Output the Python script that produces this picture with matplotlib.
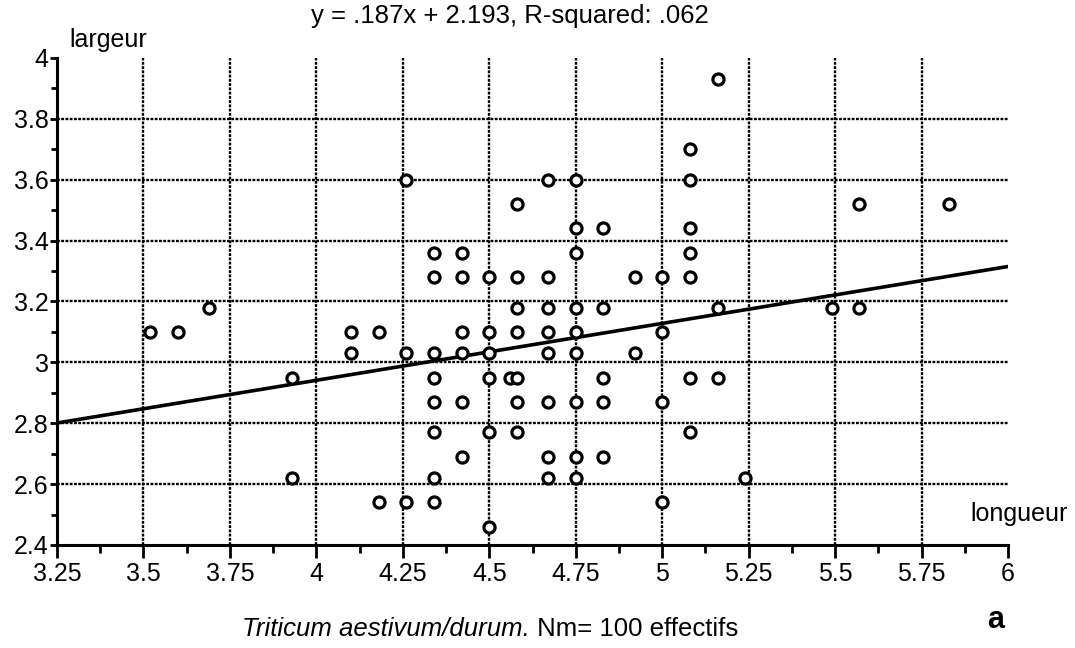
"""Nuage longueur / largeur des grains, avec droite de régression."""
import matplotlib.pyplot as plt
import numpy as np
from matplotlib.ticker import MultipleLocator

plt.rcParams["font.family"] = ["Liberation Sans", "DejaVu Sans"]

# longueur (x) et largeur (y) des grains mesurés
longueur = [
    3.52, 3.60, 3.69, 3.93, 3.93, 4.10, 4.18, 4.10, 4.18, 4.26,
    4.26, 4.26, 4.34, 4.42, 4.34, 4.42, 4.34, 4.42, 4.42, 4.34,
    4.34, 4.42, 4.34, 4.42, 4.34, 4.34, 4.50, 4.50, 4.50, 4.50,
    4.50, 4.50, 4.58, 4.58, 4.58, 4.58, 4.56, 4.58, 4.58, 4.58,
    4.67, 4.67, 4.67, 4.67, 4.67, 4.67, 4.67, 4.67, 4.75, 4.75,
    4.75, 4.75, 4.75, 4.75, 4.75, 4.75, 4.75, 4.83, 4.83, 4.83,
    4.83, 4.83, 4.92, 4.92, 5.00, 5.00, 5.00, 5.00, 5.08, 5.08,
    5.08, 5.08, 5.08, 5.08, 5.08, 5.16, 5.16, 5.16, 5.24, 5.49,
    5.57, 5.57, 5.83,
]
largeur = [
    3.10, 3.10, 3.18, 2.95, 2.62, 3.10, 3.10, 3.03, 2.54, 3.03,
    3.60, 2.54, 3.36, 3.36, 3.28, 3.28, 3.03, 3.10, 3.03, 2.95,
    2.87, 2.87, 2.77, 2.69, 2.62, 2.54, 3.28, 3.10, 3.03, 2.95,
    2.77, 2.46, 3.52, 3.28, 3.18, 3.10, 2.95, 2.95, 2.87, 2.77,
    3.60, 3.28, 3.18, 3.10, 3.03, 2.87, 2.69, 2.62, 3.60, 3.44,
    3.36, 3.18, 3.10, 3.03, 2.87, 2.69, 2.62, 3.44, 3.18, 2.95,
    2.87, 2.69, 3.28, 3.03, 3.28, 3.10, 2.87, 2.54, 3.70, 3.60,
    3.44, 3.36, 3.28, 2.95, 2.77, 3.93, 3.18, 2.95, 2.62, 3.18,
    3.52, 3.18, 3.52,
]

pente, origine, r2 = 0.187, 2.193, 0.062
xlim = (3.25, 6.0)
ylim = (2.4, 4.0)

fig = plt.figure(figsize=(10.75, 6.48), dpi=100)
ax = fig.add_axes([0.053, 0.159, 0.8847, 0.7515])
ax.set_xlim(*xlim)
ax.set_ylim(*ylim)

# grille "crénelée" comme sur les vieux tracés
grid_kw = dict(color="black", lw=1.7, ls=(0, (1.2, 0.6)), zorder=1)
for gx in np.arange(3.5, 5.8, 0.25):
    ax.axvline(gx, **grid_kw)
for gy in np.arange(2.6, 3.9, 0.2):
    ax.axhline(gy, **grid_kw)

xs = np.array(xlim)
ax.plot(xs, pente * xs + origine, color="black", lw=2.6, zorder=2,
        solid_capstyle="butt")

ax.plot(longueur, largeur, "o", ms=8, mfc="white", mec="black", mew=2.3,
        zorder=3, clip_on=False)

for s in ("top", "right"):
    ax.spines[s].set_visible(False)
for s in ("left", "bottom"):
    ax.spines[s].set_linewidth(2.2)

ax.xaxis.set_major_locator(MultipleLocator(0.25))
ax.xaxis.set_minor_locator(MultipleLocator(0.125))
ax.yaxis.set_major_locator(MultipleLocator(0.2))
ax.yaxis.set_minor_locator(MultipleLocator(0.1))
ax.set_xticklabels([f"{v:g}" for v in ax.get_xticks()])
ax.set_yticklabels([f"{v:g}" for v in ax.get_yticks()])
ax.tick_params(axis="x", which="major", length=9, width=2, labelsize=18,
               pad=3)
ax.tick_params(axis="x", which="minor", length=6, width=2)
ax.tick_params(axis="y", which="major", length=5, width=2, labelsize=18,
               pad=1)
ax.tick_params(axis="y", which="minor", length=4, width=2)

fig.text(0.474, 0.975, f"y = .{int(pente*1000)}x + {origine}, "
         f"R-squared: .0{int(round(r2*1000))}",
         ha="center", va="center", fontsize=18.5)
fig.text(0.101, 0.938, "largeur", ha="center", va="center", fontsize=18)
fig.text(0.948, 0.207, "longueur", ha="center", va="center", fontsize=18)

# légende sous le graphique : nom latin en italique, le reste droit
t1 = fig.text(0.435, 0.03, "Triticum aestivum/durum.", ha="right",
              va="center", fontsize=18.5, style="italic")
t2 = fig.text(0.437, 0.03, " Nm= 100 effectifs", ha="left", va="center",
              fontsize=18.5)
fig.canvas.draw()
r = fig.canvas.get_renderer()
w1 = t1.get_window_extent(r).width
w2 = t2.get_window_extent(r).width
x0 = 490 - (w1 + w2) / 2
t1.set_x((x0 + w1) / fig.bbox.width)
t2.set_x((x0 + w1) / fig.bbox.width)

fig.text(0.926, 0.043, "a", ha="center", va="center", fontsize=22,
         fontweight="bold")

fig.savefig("out.png", dpi=100)
